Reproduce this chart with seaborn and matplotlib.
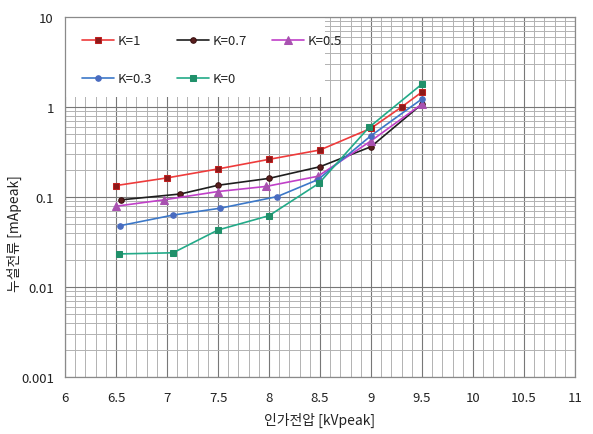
import numpy as np
import pandas as pd
import matplotlib
matplotlib.use('Agg')
import matplotlib.pyplot as plt
from matplotlib.patches import Rectangle
from matplotlib.ticker import LogLocator, FixedLocator, NullFormatter
import seaborn as sns

sns.set_style('white')
plt.rcParams['font.family'] = ['Noto Sans CJK KR', 'DejaVu Sans']

# 인가전압 [kVpeak] / 누설전류 [mApeak]
x_k1 = [6.5, 7.0, 7.5, 8.0, 8.5, 9.0, 9.3, 9.5]
y_k1 = [0.134, 0.163, 0.205, 0.262, 0.333, 0.58, 1.0, 1.47]

x_k07 = [6.55, 7.13, 7.5, 8.0, 8.5, 9.0, 9.5]
y_k07 = [0.093, 0.108, 0.135, 0.161, 0.217, 0.362, 1.08]

x_k05 = [6.5, 6.97, 7.5, 7.97, 8.48, 9.0, 9.5]
y_k05 = [0.079, 0.093, 0.115, 0.131, 0.170, 0.42, 1.08]

x_k03 = [6.54, 7.06, 7.52, 8.08, 8.48, 9.0, 9.5]
y_k03 = [0.048, 0.063, 0.075, 0.101, 0.156, 0.48, 1.23]

x_k0 = [6.53, 7.06, 7.5, 8.0, 8.49, 8.98, 9.5]
y_k0 = [0.0233, 0.024, 0.043, 0.062, 0.142, 0.594, 1.8]

series = [
    ('K=1', x_k1, y_k1, '#ee3b3b', 's', '#8c1a1a', '#c02020', 5),
    ('K=0.7', x_k07, y_k07, '#1e1e1e', 'o', '#5a1e1e', '#3a1010', 4),
    ('K=0.5', x_k05, y_k05, '#c040c8', '^', '#a852b0', '#a852b0', 6),
    ('K=0.3', x_k03, y_k03, '#3c78c8', 'o', '#4a6cc0', '#4a6cc0', 4),
    ('K=0', x_k0, y_k0, '#22aa88', 's', '#20906a', '#20906a', 4),
]

fig = plt.figure(figsize=(5.93, 4.35), dpi=100)
ax = fig.add_axes([65 / 593, 1 - 378 / 435, 510 / 593, 360 / 435])

for name, xs, ys, lc, mk, mfc, mec, ms in series:
    df = pd.DataFrame({'v': xs, 'i': ys})
    sns.lineplot(data=df, x='v', y='i', ax=ax, color=lc, marker=mk,
                 markerfacecolor=mfc, markeredgecolor=mec, markersize=ms,
                 linewidth=1.2, label=name, sort=False, zorder=3)

ax.set_yscale('log')
ax.set_xlim(6, 11)
ax.set_ylim(0.001, 10)

ax.xaxis.set_major_locator(FixedLocator(np.arange(6, 11.01, 0.5)))
ax.xaxis.set_minor_locator(FixedLocator(np.arange(6, 11.01, 0.1)))
ax.set_xticklabels(['6', '6.5', '7', '7.5', '8', '8.5', '9', '9.5', '10', '10.5', '11'])
ax.yaxis.set_major_locator(FixedLocator([0.001, 0.01, 0.1, 1, 10]))
ax.set_yticklabels(['0.001', '0.01', '0.1', '1', '10'])
ax.yaxis.set_minor_locator(LogLocator(base=10, subs=np.arange(2, 10)))
ax.yaxis.set_minor_formatter(NullFormatter())

ax.set_axisbelow(True)
ax.grid(which='major', color='#777777', linewidth=0.8)
ax.grid(which='minor', color='#b2b2b2', linewidth=0.7)
ax.tick_params(which='both', length=0, labelsize=9.5, colors='#222222')
ax.tick_params(axis='x', pad=10)
ax.tick_params(axis='y', pad=8)

for sp in ax.spines.values():
    sp.set_color('#8a8a8a')
    sp.set_linewidth(0.9)

ax.set_xlabel('인가전압 [kVpeak]', fontsize=10, color='#222222', labelpad=6)
ax.set_ylabel('누설전류 [mApeak]', fontsize=10, color='#222222')
ax.yaxis.set_label_coords(-0.085, 0.40)

# white legend area
ax.add_patch(Rectangle((0, 0.778), 0.51, 0.222, transform=ax.transAxes,
                       facecolor='white', edgecolor='none', zorder=1.5))

handles, labels = ax.get_legend_handles_labels()
order = [0, 3, 1, 4, 2]
leg = ax.legend([handles[i] for i in order], [labels[i] for i in order],
                ncol=3, loc='upper left', bbox_to_anchor=(0.01, 0.985),
                frameon=False, fontsize=9.5, handlelength=2.4,
                labelspacing=1.9, columnspacing=1.9, handletextpad=0.3)
leg.set_zorder(5)

fig.savefig('out.png', dpi=100)
